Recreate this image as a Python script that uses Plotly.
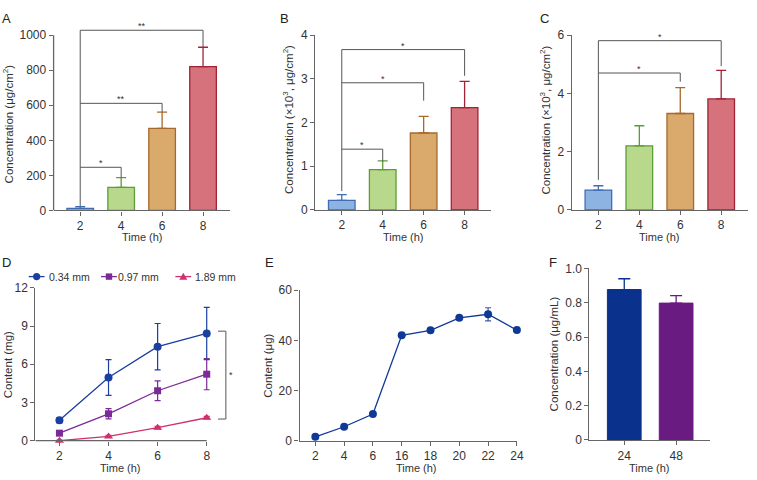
import plotly.graph_objects as go

W, H = 757, 480
FONT = "Arial, 'Liberation Sans', sans-serif"
AXIS_COLOR = '#666666'
TEXT_COLOR = '#333333'

# ---------- data ----------
bar_times = [2, 4, 6, 8]

a_mean = [11, 131, 468, 820]
a_err = [11, 56, 93, 111]
b_mean = [0.22, 0.92, 1.76, 2.34]
b_err = [0.13, 0.20, 0.38, 0.60]
c_mean = [0.68, 2.20, 3.31, 3.81]
c_err = [0.15, 0.69, 0.89, 0.98]

bar_fill = ['#8db3e2', '#b8d98b', '#d9aa6c', '#d5727c']
bar_edge = ['#3f6db5', '#5c9d35', '#a5692c', '#a32336']

# significance brackets, all starting from the 2 h bar
a_sig_to = [4, 6, 8]
a_sig_y = [246, 611, 1028]
a_sig_drop = [187, 561, 931]
a_sig_txt = ['*', '**', '**']
a_sig_base = 25

b_sig_to = [4, 6, 8]
b_sig_y = [1.39, 2.91, 3.67]
b_sig_drop = [1.11, 2.50, 3.07]
b_sig_txt = ['*', '*', '*']
b_sig_base = 0.43

c_sig_to = [6, 8]
c_sig_y = [4.70, 5.81]
c_sig_drop = [4.40, 4.94]
c_sig_txt = ['*', '*']
c_sig_base = 1.03

d_time = [2, 4, 6, 8]
d_names = ['0.34 mm', '0.97 mm', '1.89 mm']
d_mean = [[1.60, 4.96, 7.38, 8.42],
          [0.59, 2.11, 3.92, 5.22],
          [0.00, 0.33, 1.02, 1.80]]
d_err = [[0.20, 1.40, 1.82, 2.05],
         [0.10, 0.40, 0.78, 1.22],
         [0.05, 0.08, 0.10, 0.10]]
d_colors = ['#1b3f9f', '#7b2b98', '#d0306f']
d_symbols = ['circle', 'square', 'triangle-up']
d_sig_lo, d_sig_hi = 1.7, 8.6

e_time = ['2', '4', '6', '16', '18', '20', '22', '24']
e_mean = [1.55, 5.55, 10.6, 42.0, 44.0, 49.0, 50.4, 44.1]
e_err = [0.3, 0.4, 0.6, 0.7, 0.8, 0.7, 2.6, 0.5]

f_time = ['24', '48']
f_mean = [0.877, 0.798]
f_err = [0.063, 0.044]
f_colors = ['#0a328c', '#6a1b82']


def dx(left, right):
    return [left / W, right / W]


def dy(top, bottom):
    return [1 - bottom / H, 1 - top / H]


fig = go.Figure()

# ---------- A, B, C bar panels ----------
bar_panels = [
    ('x', 'y', a_mean, a_err),
    ('x2', 'y2', b_mean, b_err),
    ('x3', 'y3', c_mean, c_err),
]
for xa, ya, means, errs in bar_panels:
    for i, t in enumerate(bar_times):
        fig.add_trace(go.Bar(
            x=[t], y=[means[i]], width=1.3,
            marker=dict(color=bar_fill[i], line=dict(color=bar_edge[i], width=1.3)),
            error_y=dict(type='data', array=[errs[i]], arrayminus=[0], symmetric=False,
                         color=bar_edge[i], thickness=1.3, width=5),
            xaxis=xa, yaxis=ya, showlegend=False, hoverinfo='x+y'
        ))

shapes = []
annotations = []


def add_brackets(xa, ya, targets, heights, drops, texts, base):
    shapes.append(dict(type='line', xref=xa, yref=ya, x0=bar_times[0], x1=bar_times[0],
                       y0=base, y1=max(heights), line=dict(color='#555555', width=1)))
    for to, hy, dr, tx in zip(targets, heights, drops, texts):
        shapes.append(dict(type='path', xref=xa, yref=ya,
                           path=f'M {bar_times[0]},{hy} L {to},{hy} L {to},{dr}',
                           line=dict(color='#555555', width=1)))
        annotations.append(dict(x=(bar_times[0] + to) / 2, y=hy, xref=xa, yref=ya,
                                text=tx, showarrow=False, yanchor='bottom', yshift=-3,
                                font=dict(size=9, color='#333333')))


add_brackets('x', 'y', a_sig_to, a_sig_y, a_sig_drop, a_sig_txt, a_sig_base)
add_brackets('x2', 'y2', b_sig_to, b_sig_y, b_sig_drop, b_sig_txt, b_sig_base)
add_brackets('x3', 'y3', c_sig_to, c_sig_y, c_sig_drop, c_sig_txt, c_sig_base)

# A: y axis line stops at 1000 while brackets go above it
shapes.append(dict(type='line', xref='x domain', yref='y', x0=0, x1=0, y0=0, y1=1000,
                   line=dict(color=AXIS_COLOR, width=1.3)))

# ---------- D ----------
for k in range(3):
    fig.add_trace(go.Scatter(
        x=d_time, y=d_mean[k], mode='lines+markers', name=d_names[k],
        line=dict(color=d_colors[k], width=1.3),
        marker=dict(symbol=d_symbols[k], size=8 if k != 1 else 7, color=d_colors[k]),
        error_y=dict(type='data', array=d_err[k], color=d_colors[k], thickness=1.2, width=3),
        xaxis='x4', yaxis='y4', cliponaxis=False, showlegend=False
    ))

d_range = [1.02, 9.1]
shapes.append(dict(type='line', xref='x4', yref='y4 domain', x0=d_range[0], x1=max(d_time),
                   y0=0, y1=0, line=dict(color=AXIS_COLOR, width=1.3)))
shapes.append(dict(type='path', xref='x4', yref='y4',
                   path=f'M 8.46,{d_sig_hi} L 8.78,{d_sig_hi} L 8.78,{d_sig_lo} L 8.46,{d_sig_lo}',
                   line=dict(color='#555555', width=1)))
annotations.append(dict(x=8.98, y=(d_sig_lo + d_sig_hi) / 2, xref='x4', yref='y4', text='*',
                        showarrow=False, font=dict(size=9, color='#333333')))

# D legend (compact keys like the original)
leg_y = 1 - 277.7 / H
leg_key_x = [37, 110, 185]
leg_text_x = [49.3, 119.3, 196.7]
marker_paths = {
    'circle': dict(type='circle', x0=-3.6, x1=3.6, y0=-3.6, y1=3.6),
    'square': dict(type='rect', x0=-3.2, x1=3.2, y0=-3.2, y1=3.2),
    'triangle-up': dict(type='path', path='M -4,-3.2 L 4,-3.2 L 0,3.8 Z'),
}
for k in range(3):
    cx = leg_key_x[k] / W
    shapes.append(dict(type='line', xref='paper', yref='paper',
                       x0=(leg_key_x[k] - 8) / W, x1=(leg_key_x[k] + 8) / W, y0=leg_y, y1=leg_y,
                       line=dict(color=d_colors[k], width=1.3)))
    m = dict(marker_paths[d_symbols[k]])
    m.update(xref='paper', yref='paper', xsizemode='pixel', ysizemode='pixel',
             xanchor=cx, yanchor=leg_y, fillcolor=d_colors[k], line=dict(width=0))
    shapes.append(m)
    annotations.append(dict(x=leg_text_x[k] / W, y=leg_y, xref='paper', yref='paper',
                            text=d_names[k], showarrow=False, xanchor='left', yanchor='middle',
                            xshift=-2, font=dict(size=10.5, color=TEXT_COLOR)))

# ---------- E ----------
fig.add_trace(go.Scatter(
    x=e_time, y=e_mean, mode='lines+markers',
    line=dict(color='#0f3996', width=1.3),
    marker=dict(symbol='circle', size=8, color='#0f3996'),
    error_y=dict(type='data', array=e_err, color='#3a5aa8', thickness=1.2, width=3),
    xaxis='x5', yaxis='y5', cliponaxis=False, showlegend=False
))

# ---------- F ----------
for i in range(2):
    fig.add_trace(go.Bar(
        x=[f_time[i]], y=[f_mean[i]], width=0.65,
        marker=dict(color=f_colors[i], line=dict(color=f_colors[i], width=1)),
        error_y=dict(type='data', array=[f_err[i]], arrayminus=[0], symmetric=False,
                     color=f_colors[i], thickness=1.3, width=6),
        xaxis='x6', yaxis='y6', showlegend=False
    ))

axis_style = dict(showline=True, linecolor=AXIS_COLOR, linewidth=1.3, ticks='outside',
                  ticklen=4, tickwidth=1.3, tickcolor=AXIS_COLOR, showgrid=False,
                  zeroline=False, tickfont=dict(size=12, color=TEXT_COLOR, family=FONT),
                  fixedrange=True)

fig.update_layout(
    xaxis=dict(axis_style, domain=dx(54.1, 231.8), range=[0.7, 9.3], tickvals=bar_times, anchor='y'),
    yaxis=dict(axis_style, domain=dy(21.8, 209.5), range=[0, 1040],
               tickvals=[0, 200, 400, 600, 800, 1000], anchor='x', showline=False),
    xaxis2=dict(axis_style, domain=dx(318.1, 495.8), range=[0.7, 9.3], tickvals=bar_times, anchor='y2'),
    yaxis2=dict(axis_style, domain=dy(29, 209), range=[0, 4], tickvals=[0, 1, 2, 3, 4], anchor='x2'),
    xaxis3=dict(axis_style, domain=dx(577.1, 754.8), range=[0.7, 9.3], tickvals=bar_times, anchor='y3'),
    yaxis3=dict(axis_style, domain=dy(29, 209), range=[0, 6], tickvals=[0, 2, 4, 6], anchor='x3'),
    xaxis4=dict(axis_style, domain=dx(35.7, 235.9), range=d_range, tickvals=d_time, anchor='y4',
                showline=False),
    yaxis4=dict(axis_style, domain=dy(289.3, 446.7), range=[0, 12], tickvals=[0, 3, 6, 9, 12], anchor='x4'),
    xaxis5=dict(axis_style, domain=dx(302.3, 521.7), type='category', range=[-0.55, 7], anchor='y5'),
    yaxis5=dict(axis_style, domain=dy(291.7, 446.7), range=[0, 60], tickvals=[0, 20, 40, 60], anchor='x5'),
    xaxis6=dict(axis_style, domain=dx(595, 717), type='category', range=[-0.67, 1.66], anchor='y6'),
    yaxis6=dict(axis_style, domain=dy(269.3, 446), range=[0, 1],
                tickvals=[0, 0.2, 0.4, 0.6, 0.8, 1.0],
                ticktext=['0', '0.2', '0.4', '0.6', '0.8', '1.0'], anchor='x6'),
    barmode='overlay',
    width=W, height=H,
    margin=dict(l=0, r=0, t=0, b=0),
    paper_bgcolor='white', plot_bgcolor='white',
    font=dict(family=FONT, color=TEXT_COLOR, size=12),
    showlegend=False,
)

# panel letters
for letter, px, py in [('A', 0, 2), ('B', 281, 2), ('C', 543, 2),
                       ('D', 0, 253), ('E', 265, 253), ('F', 552, 253)]:
    annotations.append(dict(x=px / W, y=1 - py / H, xref='paper', yref='paper', text=letter,
                            showarrow=False, xanchor='left', yanchor='top',
                            font=dict(size=13, color='#222222')))

# axis titles
y_titles = [
    ('Concentration (μg/cm<sup>2</sup>)', 8, 120),
    ('Concentration (×10<sup>3</sup>, μg/cm<sup>2</sup>)', 290, 116),
    ('Concentration (×10<sup>3</sup>, μg/cm<sup>2</sup>)', 550, 116),
    ('Content (mg)', 8, 368),
    ('Content (μg)', 271, 369),
    ('Concentration (μg/mL)', 559, 357),
]
for txt, px, py in y_titles:
    annotations.append(dict(x=px / W, y=1 - py / H, xref='paper', yref='paper', text=txt,
                            textangle=-90, showarrow=False, xanchor='center', yanchor='middle',
                            font=dict(size=11.5, color=TEXT_COLOR)))

for px, py in [(144, 236.5), (407, 236.5), (666, 236.5), (122, 474.5), (420, 474.5), (656, 474.5)]:
    annotations.append(dict(x=px / W, y=1 - py / H, xref='paper', yref='paper', text='Time (h)',
                            showarrow=False, xanchor='center', yanchor='middle',
                            font=dict(size=11, color=TEXT_COLOR)))

fig.update_layout(shapes=shapes, annotations=annotations)

fig.write_html("out.html", config={'displayModeBar': False},
               post_script="document.body.style.margin='0';document.body.style.overflow='hidden';")
